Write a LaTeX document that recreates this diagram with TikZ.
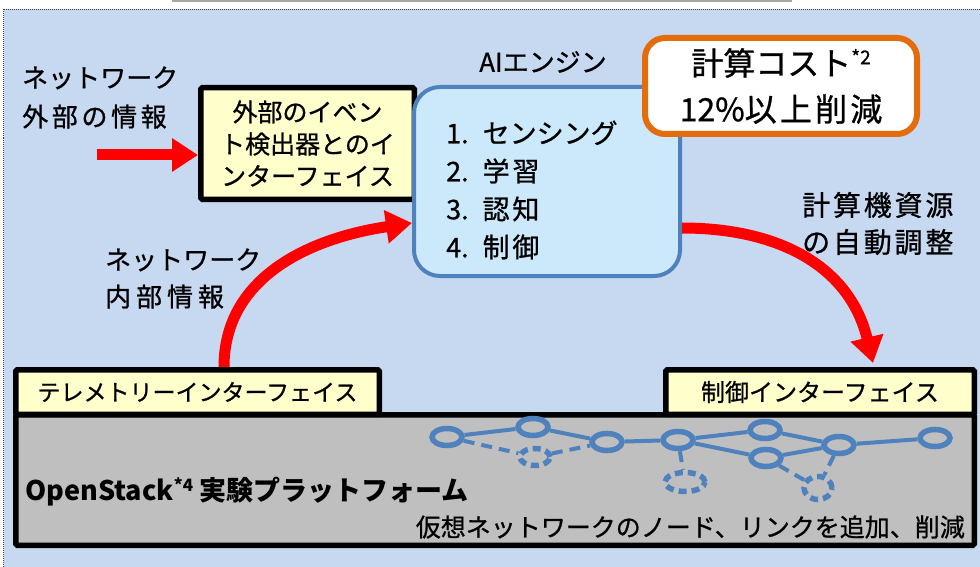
\documentclass[tikz,border=0pt]{standalone}
\usepackage{fontspec}
\setmainfont{Noto Sans CJK JP}[UprightFeatures={FakeBold=0.8}]
\usetikzlibrary{arrows.meta,shapes.geometric}
\definecolor{bgblue}{HTML}{C6D9F1}
\definecolor{aifill}{HTML}{CCE9FB}
\definecolor{aiborder}{HTML}{4F81BD}
\definecolor{padyel}{HTML}{FFFFCC}
\definecolor{orng}{HTML}{E46C0A}
\definecolor{platgray}{HTML}{BFBFBF}
\definecolor{netblue}{HTML}{4F81BD}
\definecolor{topgray}{HTML}{A6A6A6}
\newcommand\fs[2]{\fontsize{#1}{#2}\selectfont}
\newcommand\lsp[2][18]{{\addfontfeature{LetterSpace=#1}#2}}
\begin{document}
\begin{tikzpicture}[x=1pt,y=-1pt,
  txt/.style={inner sep=0pt, text=black},
  yelbox/.style={draw=black, fill=padyel, line width=5.5pt, rounded corners=1.5pt},
  redarrow/.style={draw=red, line width=11pt, -{Triangle[length=26pt,width=32pt]}},
  vnode/.style={ellipse, draw=netblue, line width=5.5pt, minimum width=30pt, minimum height=17pt, inner sep=0pt},
  vnew/.style={vnode, dash pattern=on 8pt off 5pt},
  vlink/.style={draw=netblue, line width=4pt},
  vnewlink/.style={vlink, dash pattern=on 11pt off 7pt}
]
\useasboundingbox (0,0) rectangle (980,567);
\fill[white] (0,0) rectangle (980,567);
\draw[topgray, line width=2pt, fill=white] (173,-40) rectangle (791,1);
\draw[fill=bgblue, draw=black!75, line width=1.2pt, dash pattern=on 1pt off 1pt] (3.5,9.5) rectangle (1000,600);

% left label
\node[txt, anchor=west, align=left, font=\fs{26}{39}] (extinfo) at (22,97.5) {ネットワーク\\\lsp[14]{外部の情報}};

% external event interface box
\node[yelbox, minimum width=213.5pt, minimum height=111.5pt, align=center, font=\fs{25}{32}] (ext) at (307.5,143.5) {外部のイベン\\ト検出器とのイ\\ンターフェイス};

% AI engine
\node[txt, font=\fs{26}{30}] (ailbl) at (543,62) {AIエンジン};
\node[draw=aiborder, fill=aifill, line width=4pt, rounded corners=26pt, minimum width=266pt, minimum height=189pt] (ai) at (547,181.5) {};
\node[txt, anchor=west, align=left, font={\fs{27}{38}}] (ailist) at (446,190) {1.\hspace{14pt}センシング\\2.\hspace{14pt}\lsp[10]{学習}\\3.\hspace{14pt}\lsp[10]{認知}\\4.\hspace{14pt}\lsp[10]{制御}};

% cost box
\node[draw=orng, fill=white, line width=6pt, rounded corners=20pt, minimum width=272pt, minimum height=96pt, align=center, font=\fs{32}{46}] (cost) at (781,86) {計算コスト\raisebox{11pt}{\fs{19}{19}*2}\\12\%\lsp[10]{以上削減}};

% right label
\node[txt, anchor=west, align=left, font={\fs{28}{37}\addfontfeature{LetterSpace=10}}] (resadj) at (802,223.5) {計算機資源\\の自動調整};

% internal info label
\node[txt, anchor=west, align=left, font=\fs{26}{37}] (intinfo) at (105,278.5) {ネットワーク\\\lsp[19]{内部情報}};

% platform
\node[draw=black, fill=platgray, line width=5.5pt, rounded corners=1.5pt, minimum width=958.5pt, minimum height=130.5pt] (plat) at (495,480) {};
\node[yelbox, minimum width=363.5pt, minimum height=44.5pt, font=\fs{23}{26}] (tele) at (197.5,392) {テレメトリーインターフェイス};
\node[yelbox, minimum width=308.5pt, minimum height=44.5pt, font=\fs{24}{26}] (ctrl) at (820,392) {制御インターフェイス};

\node[txt, anchor=west, font={\fs{27}{32}\bfseries}] (osname) at (25,492) {OpenStack\raisebox{9pt}{\fs{17}{17}*4} 実験プラットフォーム};
\node[txt, anchor=east, font=\fs{25}{30}] (vnops) at (965,527) {仮想ネットワークのノード、リンクを追加、削減};

% virtual network
\node[vnode] (n1) at (447,437) {};
\node[vnode] (n2) at (533,427) {};
\node[vnode] (n3) at (607,442) {};
\node[vnode] (n4) at (678,440) {};
\node[vnode] (n5) at (765,430) {};
\node[vnode] (n6) at (839,445) {};
\node[vnode] (n7) at (935,438) {};
\node[vnode] (n8) at (766,458) {};
\node[vnew] (d1) at (535,457) {};
\node[vnew, minimum width=40pt, minimum height=19pt] (d2) at (685,482) {};
\node[vnew, minimum width=28pt, minimum height=23pt] (d3) at (818,488) {};
\draw[vlink] (n1) -- (n2);
\draw[vlink] (n2) -- (n3);
\draw[vlink] (n3) -- (n4);
\draw[vlink] (n4) -- (n5);
\draw[vlink] (n5) -- (n6);
\draw[vlink] (n6) -- (n7);
\draw[vlink] (n4) -- (n8);
\draw[vlink] (n8) -- (n6);
\draw[vnewlink] (n1) -- (d1);
\draw[vnewlink] (d1) -- (n3);
\draw[vnewlink] (n4) -- (d2);
\draw[vnewlink] (n8) -- (d3);
\draw[vnewlink] (n6) -- (d3);

% red arrows
\coordinate (extsrc) at (97,155);
\draw[redarrow] (extsrc) -- (ext.west |- extsrc);
\draw[redarrow] ([xshift=26.5pt]tele.north) .. controls +(0,-90) and +(-102,15) .. ([yshift=-41.5pt]ai.west);
\draw[redarrow] ([yshift=-46.5pt]ai.east) .. controls +(98,0) and +(-23,-96) .. ([xshift=53pt,yshift=4pt]ctrl.north);
\end{tikzpicture}
\end{document}
